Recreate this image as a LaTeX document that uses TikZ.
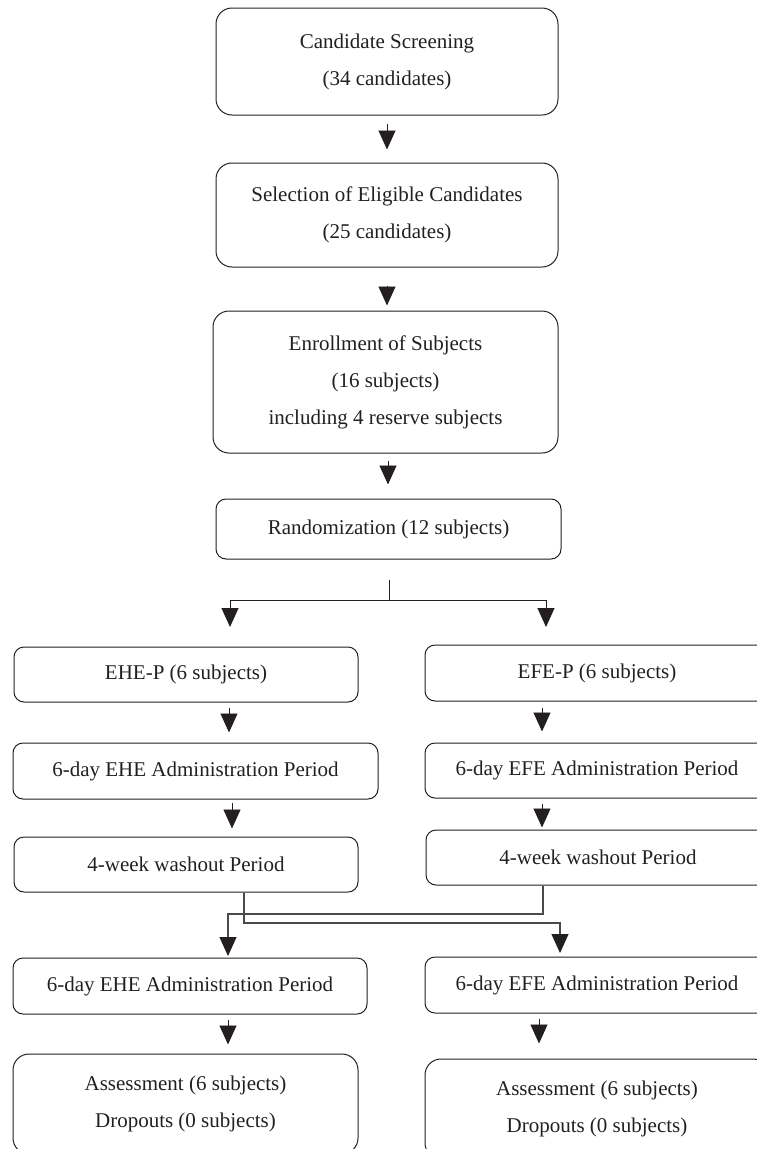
\documentclass[tikz,border=0pt]{standalone}
\usepackage{fontspec}
\setmainfont{Liberation Serif}
\usetikzlibrary{arrows.meta}
\definecolor{ink}{HTML}{231F20}
\definecolor{linkc}{HTML}{4A4A4A}
\newcommand{\fsbox}{\fontsize{21}{37}\selectfont}
\tikzset{
  box/.style={draw=ink, text=ink, rounded corners=10pt, inner sep=0pt, align=center, font=\fsbox, line width=1pt},
  bigbox/.style={box, rounded corners=16pt},
  arr/.style={draw=ink, -{Triangle[length=19pt,width=17pt]}, line width=0.9pt},
  linkarr/.style={draw=linkc, line width=1.1pt, -{Triangle[length=19pt,width=17pt,color=ink]}}
}
\begin{document}
\begin{tikzpicture}[x=1pt,y=-1pt]
\useasboundingbox (0,0) rectangle (757,1149);
% centre column
\node[bigbox, minimum width=342pt, minimum height=107pt] (B1) at (387,61.5) {Candidate Screening\\(34 candidates)};
\node[bigbox, minimum width=342pt, minimum height=104pt] (B2) at (387,215) {Selection of Eligible Candidates\\(25 candidates)};
\node[bigbox, minimum width=345pt, minimum height=142pt] (B3) at (385.5,382) {Enrollment of Subjects\\(16 subjects)\\including 4 reserve subjects};
\node[box, minimum width=345pt, minimum height=60pt] (B4) at (388.5,529) {Randomization (12 subjects)};
% left column
\node[box, minimum width=344pt, minimum height=55pt] (L1) at (186,674.5) {EHE-P (6 subjects)};
\node[box, minimum width=365pt, minimum height=56pt] (L2) at (195.5,771) {6-day EHE Administration Period};
\node[box, minimum width=344pt, minimum height=55pt] (L3) at (186,864.5) {4-week washout Period};
\node[box, minimum width=354pt, minimum height=56pt] (L4) at (190,986) {6-day EHE Administration Period};
\node[bigbox, minimum width=345pt, minimum height=100pt] (L5) at (185.5,1104) {Assessment (6 subjects)\\Dropouts (0 subjects)};
% right column
\node[box, minimum width=344pt, minimum height=56pt] (R1) at (597,673) {EFE-P (6 subjects)};
\node[box, minimum width=344pt, minimum height=55pt] (R2) at (597,770.5) {6-day EFE Administration Period};
\node[box, minimum width=344pt, minimum height=55pt] (R3) at (598,857.5) {4-week washout Period};
\node[box, minimum width=344pt, minimum height=56pt] (R4) at (597,985) {6-day EFE Administration Period};
\node[bigbox, minimum width=344pt, minimum height=100pt] (R5) at (597,1109) {Assessment (6 subjects)\\Dropouts (0 subjects)};
% coordinates
\coordinate (sp) at (389,600);
\coordinate (tL) at (230,627);
\coordinate (tR) at (546,627);
\coordinate (cL) at (244,923);
\coordinate (cLe) at (560,953);
\coordinate (cR) at (543,914);
\coordinate (cRe) at (228,956);
% arrows centre
\draw[arr, shorten <=8pt, shorten >=13pt] (B1.south) -- (B2.north);
\draw[arr, shorten <=18pt, shorten >=5pt] (B2.south) -- (B2.south |- B3.north);
\draw[arr, shorten <=7pt, shorten >=14pt] (B3.south -| 388,0) -- (B4.north -| 388,0);
\draw[arr] (B4.south -| sp) ++(0,20) -- (sp) -| (tL);
\draw[arr] (sp) -| (tR);
% left column arrows
\draw[arr, shorten <=5pt, shorten >=10pt] (L1.south -| 229,0) -- (L2.north -| 229,0);
\draw[arr, shorten <=3pt, shorten >=8pt] (L2.south -| 232,0) -- (L3.north -| 232,0);
\draw[arr, shorten <=5pt, shorten >=9pt] (L4.south -| 228,0) -- (L5.north -| 228,0);
% right column arrows
\draw[arr, shorten <=6pt, shorten >=11pt] (R1.south -| 542,0) -- (R2.north -| 542,0);
\draw[arr, shorten <=5pt, shorten >=2pt] (R2.south -| 542,0) -- (R3.north -| 542,0);
\draw[arr, shorten <=5pt, shorten >=15pt] (R4.south -| 539,0) -- (R5.north -| 539,0);
% crossover
\draw[linkarr] (L3.south -| cL) -- (cL) -| (cLe);
\draw[linkarr] (R3.south -| cR) -- (cR) -| (cRe);
\end{tikzpicture}
\end{document}
